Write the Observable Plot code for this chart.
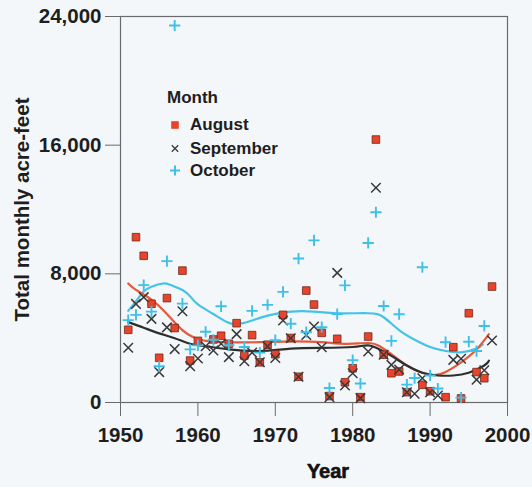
<!DOCTYPE html>
<html>
<head>
<meta charset="utf-8">
<script src="https://cdn.jsdelivr.net/npm/d3@7"></script>
<script src="https://cdn.jsdelivr.net/npm/@observablehq/plot@0.6"></script>
<style>
  html, body { margin: 0; padding: 0; background: #f4f7fa; }
  #chart { position: relative; width: 532px; height: 487px; }
  #chart svg { display: block; }
  #legend { position: absolute; left: 0; top: 0; pointer-events: none; }
</style>
</head>
<body>
<div id="chart"></div>
<script>
// Total monthly runoff, acre-feet, by year
const months = ["August", "September", "October"];
const xTicks = [1950, 1960, 1970, 1980, 1990, 2000];
const yTicks = [0, 8000, 16000, 24000];

const august = [
  [1951, 4520], [1952, 10280], [1953, 9120], [1954, 6140], [1955, 2780], [1956, 6490],
  [1957, 4630], [1958, 8200], [1959, 2610], [1960, 3830], [1962, 3920], [1963, 4150],
  [1964, 3650], [1965, 4930], [1966, 2920], [1967, 4190], [1968, 2500], [1969, 3590],
  [1970, 3000], [1971, 5450], [1972, 4010], [1973, 1600], [1974, 6960], [1975, 6090],
  [1976, 4330], [1977, 400], [1978, 3960], [1979, 1260], [1980, 2130], [1981, 330],
  [1982, 4100], [1983, 16350], [1984, 2970], [1985, 1820], [1986, 1930], [1987, 640],
  [1989, 1100], [1990, 700], [1992, 330], [1993, 3440], [1994, 250], [1995, 5550],
  [1996, 1890], [1997, 1510], [1998, 7210]
];

const september = [
  [1951, 3400], [1952, 6130], [1953, 6550], [1954, 5200], [1955, 1890], [1956, 4670],
  [1957, 3320], [1958, 5670], [1959, 2260], [1960, 2740], [1961, 3500], [1962, 3230],
  [1963, 3650], [1964, 2820], [1965, 4250], [1966, 2560], [1967, 3100], [1968, 2500],
  [1969, 3500], [1970, 2770], [1971, 5100], [1972, 3990], [1973, 1600], [1974, 4200],
  [1975, 4730], [1976, 3440], [1977, 330], [1978, 8060], [1979, 1060], [1980, 1820],
  [1981, 270], [1982, 3170], [1983, 13350], [1984, 2970], [1985, 2340], [1986, 2050],
  [1987, 640], [1988, 540], [1989, 1510], [1990, 640], [1991, 435], [1993, 2650],
  [1994, 2720], [1996, 1420], [1997, 2000], [1998, 3860]
];

const october = [
  [1951, 5120], [1952, 5450], [1953, 7300], [1954, 5650], [1955, 2250], [1956, 8790],
  [1957, 23440], [1958, 6150], [1959, 3300], [1960, 3550], [1961, 4400], [1962, 3900],
  [1963, 5980], [1964, 3560], [1966, 3450], [1967, 5700], [1968, 3100], [1969, 6070],
  [1970, 3880], [1971, 6880], [1972, 4900], [1973, 8950], [1974, 4370], [1975, 10080],
  [1976, 4680], [1977, 900], [1978, 5500], [1979, 7280], [1980, 2630], [1981, 1180],
  [1982, 9920], [1983, 11830], [1984, 6000], [1985, 3830], [1986, 5490], [1987, 1110],
  [1988, 1520], [1989, 8410], [1990, 1680], [1991, 870], [1992, 3750], [1994, 300],
  [1995, 3780], [1996, 3200], [1997, 4760]
];

// Smoothed trend for each month
const augustTrend = [
  [1951, 7400], [1952, 7000], [1954, 6400], [1956, 5500], [1958, 4500], [1960, 3950],
  [1963, 3750], [1968, 3750], [1972, 3800], [1976, 3750], [1979, 3650], [1982, 3700],
  [1983.5, 3500], [1985, 3000], [1987, 2300], [1989, 1850], [1990.5, 1700], [1992, 1900],
  [1994, 2500], [1996, 3300], [1997.6, 4250]
];
const septemberTrend = [
  [1951, 5000], [1953, 4650], [1955, 4300], [1957, 4000], [1959, 3650], [1961, 3500],
  [1964, 3300], [1968, 3200], [1972, 3350], [1976, 3400], [1980, 3450], [1982, 3550],
  [1983.5, 3300], [1985, 2900], [1987, 2300], [1989, 1850], [1991, 1680], [1993, 1680],
  [1995, 1850], [1997, 2300], [1997.6, 2600]
];
const octoberTrend = [
  [1951, 5700], [1952, 6300], [1953, 6900], [1954, 7200], [1955.5, 7400], [1956.5, 7300],
  [1958, 7000], [1959, 6600], [1960, 6100], [1962, 5500], [1964, 4950], [1965.5, 4900],
  [1967, 5100], [1969, 5400], [1972, 5650], [1975, 5650], [1978, 5550], [1982, 5550],
  [1984, 5300], [1986, 4500], [1988, 3900], [1990, 3450], [1992, 3200], [1994, 3120],
  [1996, 3350], [1996.8, 3600]
];

const colors = { August: "#e8432b", September: "#3a3a3a", October: "#3fc0e6" };
const trendColors = { August: "#e55a3c", September: "#2e2e2e", October: "#45c3e6" };
const rows = (pairs) => pairs.map(([year, value]) => ({ year, value }));

const font = "'Liberation Sans', Arial, Helvetica, sans-serif";
const ink = "#1e1e1e";
const rule = "#6a6a6a";

const chart = Plot.plot({
  width: 532,
  height: 487,
  marginLeft: 120,
  marginRight: 25,
  marginTop: 16,
  marginBottom: 85,
  x: { domain: [1950, 2000], label: null },
  y: { domain: [0, 24000], label: null },
  style: {
    background: "transparent",
    fontFamily: font,
    fontSize: "20px",
    fontWeight: "bold",
    color: ink,
    overflow: "visible"
  },
  marks: [
    Plot.frame({ stroke: rule, strokeWidth: 1.2 }),
    Plot.axisY({ ticks: yTicks, tickSize: 15, tickPadding: 4, tickFormat: d3.format(","), stroke: rule, fill: ink, fontSize: 20.5, label: null }),
    Plot.axisX({ ticks: xTicks, tickSize: 14, tickPadding: 11, tickFormat: "d", stroke: rule, fill: ink, fontSize: 20.5, label: null }),
    Plot.line(rows(octoberTrend), { x: "year", y: "value", stroke: trendColors.October, strokeWidth: 2.2, curve: "natural" }),
    Plot.line(rows(augustTrend), { x: "year", y: "value", stroke: trendColors.August, strokeWidth: 2.2, curve: "natural" }),
    Plot.line(rows(septemberTrend), { x: "year", y: "value", stroke: trendColors.September, strokeWidth: 2.2, curve: "natural" }),
    Plot.dot(rows(august), { x: "year", y: "value", symbol: "square", r: 4.3, fill: colors.August, stroke: "#6e2a1c", strokeWidth: 0.8 }),
    Plot.dot(rows(september), { x: "year", y: "value", symbol: "times", r: 4.4, stroke: colors.September, strokeWidth: 1.5 }),
    Plot.dot(rows(october), { x: "year", y: "value", symbol: "plus", r: 3.7, stroke: colors.October, strokeWidth: 1.9 }),
    Plot.text(["Total monthly acre-feet"], { frameAnchor: "left", textAnchor: "middle", lineAnchor: "middle", rotate: -90, dx: -98, fontSize: 20.5, fill: ink }),
    Plot.text(["Year"], { frameAnchor: "bottom", textAnchor: "middle", lineAnchor: "top", dx: 14, dy: 61, fontSize: 20, fill: "#111", stroke: "#111", strokeWidth: 0.6 })
  ]
});

const root = document.getElementById("chart");
root.appendChild(chart);

// Legend box in the upper-left of the plot area
const legend = d3.create("svg")
  .attr("id", "legend")
  .attr("width", 532)
  .attr("height", 487)
  .style("font-family", font)
  .style("font-weight", "bold")
  .style("font-size", "17px")
  .style("fill", ink);

legend.append("text").attr("x", 167).attr("y", 102.5).text("Month");

const rowBase = [130, 153.5, 175.5];
months.forEach((m, i) => {
  const cy = rowBase[i] - 5;
  const g = legend.append("g").attr("transform", `translate(175,${cy})`);
  if (m === "August") {
    g.append("rect").attr("x", -3.8).attr("y", -3.8).attr("width", 7.6).attr("height", 7.6)
      .attr("fill", colors.August).attr("stroke", "none");
  } else if (m === "September") {
    g.append("path").attr("d", "M-3.2,-3.2L3.2,3.2M-3.2,3.2L3.2,-3.2")
      .attr("stroke", colors.September).attr("stroke-width", 1.3).attr("fill", "none");
  } else {
    g.append("path").attr("d", "M-5,0H5M0,-5V5")
      .attr("stroke", colors.October).attr("stroke-width", 2).attr("fill", "none");
  }
  legend.append("text").attr("x", 190).attr("y", rowBase[i]).text(m);
});

root.appendChild(legend.node());
</script>
</body>
</html>
